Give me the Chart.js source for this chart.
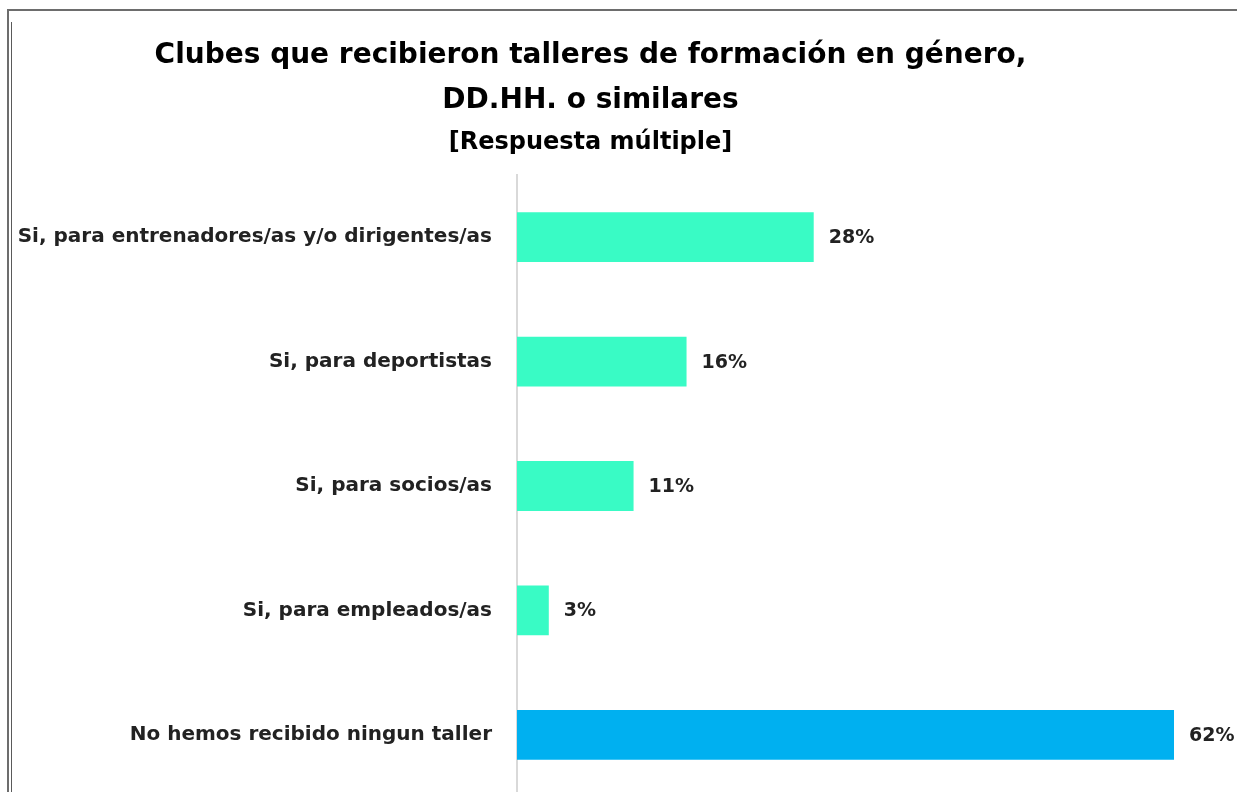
<!DOCTYPE html>
<html>
<head>
<meta charset="utf-8">
<script src="https://cdn.jsdelivr.net/npm/chart.js@4"></script>
<style>
  html, body { margin: 0; padding: 0; background: #fff; overflow: hidden; }
  #wrap { position: relative; width: 1237px; height: 800px; }
  #frameOuter { position: absolute; left: 7px; top: 9px; right: -5px; bottom: -5px;
    border-top: 2px solid #6d6d6d; border-left: 2px solid #6d6d6d; pointer-events: none; }
  #frameInner { position: absolute; left: 11px; top: 22px; bottom: -5px; width: 0;
    border-left: 1px solid #5a5a5a; pointer-events: none; }
</style>
</head>
<body>
<div id="wrap">
  <canvas id="chart" width="1237" height="800"></canvas>
  <div id="frameOuter"></div>
  <div id="frameInner"></div>
</div>
<script>
// --- Data ---
const categories = [
  "Si, para entrenadores/as y/o dirigentes/as",
  "Si, para deportistas",
  "Si, para socios/as",
  "Si, para empleados/as",
  "No hemos recibido ningun taller"
];
const values = [28, 16, 11, 3, 62];
const barColors = ["#39FBC5", "#39FBC5", "#39FBC5", "#39FBC5", "#00B0F0"];
const titleLines = ["Clubes que recibieron talleres de formación en género,", "DD.HH. o similares"];
const subtitleText = "[Respuesta múltiple]";

const FONT = "'DejaVu Sans', sans-serif";

// --- Value labels at bar ends ---
const valueLabels = {
  id: "valueLabels",
  afterDatasetsDraw(chart) {
    const ctx = chart.ctx;
    const meta = chart.getDatasetMeta(0);
    ctx.save();
    ctx.font = "bold 19px " + FONT;
    ctx.fillStyle = "#222";
    ctx.textBaseline = "middle";
    ctx.textAlign = "left";
    meta.data.forEach((bar, i) => {
      ctx.fillText(values[i] + "%", bar.x + 15, bar.y + 1);
    });
    ctx.restore();
  }
};

new Chart(document.getElementById("chart"), {
  type: "bar",
  data: {
    labels: categories,
    datasets: [{
      data: values,
      backgroundColor: barColors,
      barPercentage: 0.4,
      categoryPercentage: 1
    }]
  },
  options: {
    indexAxis: "y",
    responsive: false,
    animation: false,
    layout: { padding: { top: 33, right: 56, bottom: 3, left: 0 } },
    plugins: {
      legend: { display: false },
      tooltip: { enabled: false },
      title: {
        display: true,
        text: titleLines,
        color: "#000",
        font: { family: FONT, size: 28, weight: "bold", lineHeight: "45px" },
        padding: { top: 0, bottom: 0 }
      },
      subtitle: {
        display: true,
        text: subtitleText,
        color: "#000",
        font: { family: FONT, size: 24, weight: "bold", lineHeight: "30px" },
        padding: { top: 5, bottom: 17 }
      }
    },
    scales: {
      x: { display: false, min: 0, max: 62.66 },
      y: {
        grid: { display: false, drawTicks: false },
        border: { display: true, color: "#d9d9d9", width: 2 },
        ticks: {
          color: "#222",
          padding: 25,
          font: { family: FONT, size: 20, weight: "bold" }
        },
        afterFit(scale) {
          scale.width = 517;
          scale.paddingTop = 0;
          scale.paddingBottom = 0;
        }
      }
    }
  },
  plugins: [valueLabels]
});
</script>
</body>
</html>
